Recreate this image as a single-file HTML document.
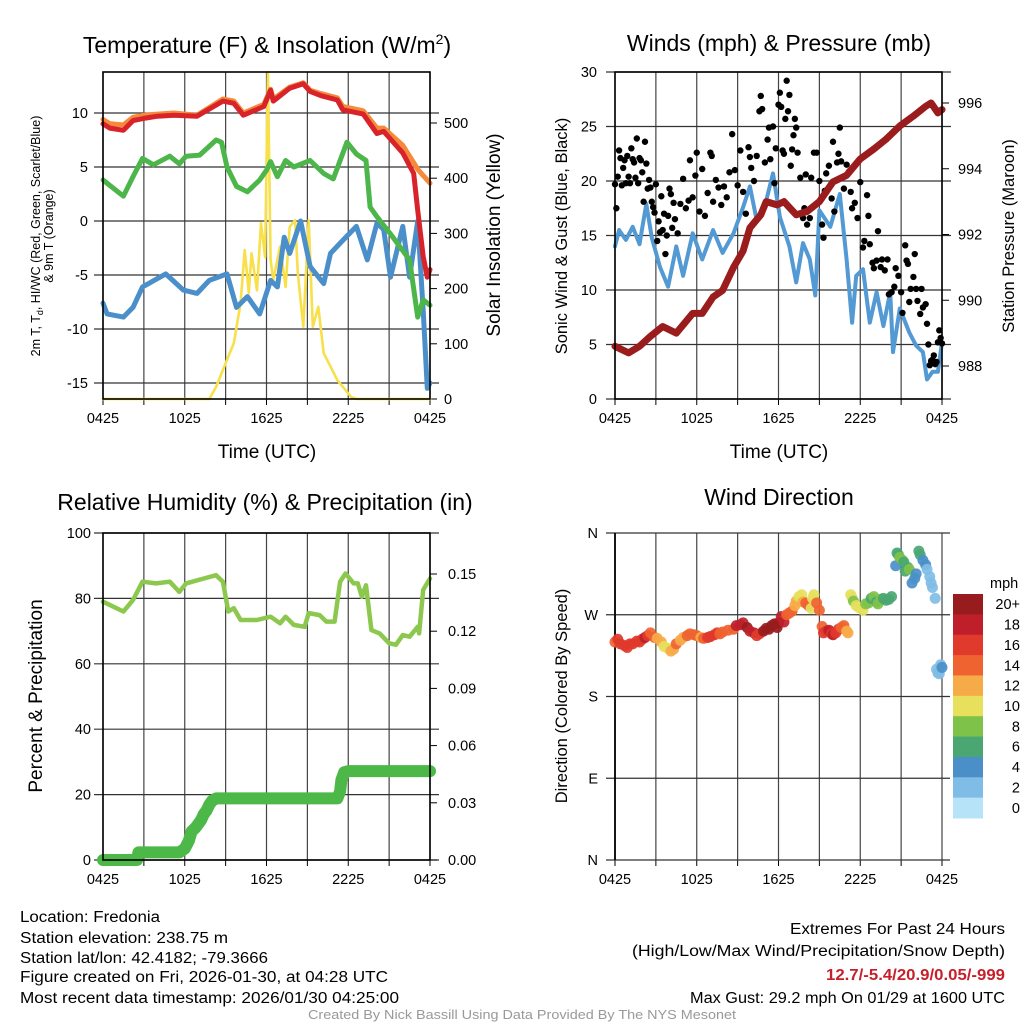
<!DOCTYPE html>
<html><head><meta charset="utf-8"><style>
body{margin:0;background:#fff;}
svg{display:block;font-family:"Liberation Sans",sans-serif;}
</style></head><body>
<svg id="c" width="1024" height="1024" viewBox="0 0 1024 1024" xmlns="http://www.w3.org/2000/svg">
<rect width="1024" height="1024" fill="#fff"/>
<g id="p1"></g>
<g id="p2"></g>
<g id="p3"></g>
<g id="p4"></g>
<g font-size="23" text-anchor="middle" fill="#000">
<text x="267" y="53">Temperature (F) &amp; Insolation (W/m<tspan font-size="14" dy="-9">2</tspan><tspan dy="9">)</tspan></text>
<text x="779" y="51">Winds (mph) &amp; Pressure (mb)</text>
<text x="265" y="510">Relative Humidity (%) &amp; Precipitation (in)</text>
<text x="779" y="505">Wind Direction</text>
</g>
<g font-size="19" text-anchor="middle">
<text x="267" y="458">Time (UTC)</text>
<text x="779" y="458">Time (UTC)</text>
<text transform="translate(500,235) rotate(-90)">Solar Insolation (Yellow)</text>
<text transform="translate(42,696) rotate(-90)">Percent &amp; Precipitation</text>
</g>
<g font-size="16.5" text-anchor="middle">
<text transform="translate(567,236) rotate(-90)">Sonic Wind &amp; Gust (Blue, Black)</text>
<text transform="translate(1014,236) rotate(-90)">Station Pressure (Maroon)</text>
<text transform="translate(567,696) rotate(-90)">Direction (Colored By Speed)</text>
</g>
<g font-size="12.5" text-anchor="middle">
<text transform="translate(40,236) rotate(-90)">2m T, T<tspan font-size="9" dy="3">d</tspan><tspan dy="-3">, HI/WC (Red, Green, Scarlet/Blue)</tspan></text>
<text transform="translate(53,236) rotate(-90)">&amp; 9m T (Orange)</text>
</g>
<g font-size="15.5" fill="#000">
<text x="20" y="922" textLength="140" lengthAdjust="spacingAndGlyphs">Location: Fredonia</text>
<text x="20" y="943" textLength="208" lengthAdjust="spacingAndGlyphs">Station elevation: 238.75 m</text>
<text x="20" y="963" textLength="248" lengthAdjust="spacingAndGlyphs">Station lat/lon: 42.4182; -79.3666</text>
<text x="20" y="982" textLength="368" lengthAdjust="spacingAndGlyphs">Figure created on Fri, 2026-01-30, at 04:28 UTC</text>
<text x="20" y="1003" textLength="379" lengthAdjust="spacingAndGlyphs">Most recent data timestamp: 2026/01/30 04:25:00</text>
<text x="790" y="934" textLength="215" lengthAdjust="spacingAndGlyphs">Extremes For Past 24 Hours</text>
<text x="632" y="956" textLength="373" lengthAdjust="spacingAndGlyphs">(High/Low/Max Wind/Precipitation/Snow Depth)</text>
<text x="826" y="980" textLength="179" lengthAdjust="spacingAndGlyphs" font-weight="bold" fill="#c8202a">12.7/-5.4/20.9/0.05/-999</text>
<text x="690" y="1003" textLength="315" lengthAdjust="spacingAndGlyphs">Max Gust: 29.2 mph On 01/29 at 1600 UTC</text>
<text x="308" y="1019" textLength="428" lengthAdjust="spacingAndGlyphs" font-size="13" fill="#999">Created By Nick Bassill Using Data Provided By The NYS Mesonet</text>
</g>
</svg>
<script>
// ---- data ----
const xTickLabels = ["0425","1025","1625","2225","0425"];
const tempT  = [0,0.5,1.5,2.2,3,4,5.2,6.9,8.8,9.6,10.3,11.8,12.3,12.5,13.7,14.7,15.2,16,17.2,17.6,19.1,20.1,20.6,22,22.8,23.1,23.5,23.8,24];
const tempV  = [9.0,8.6,8.4,9.3,9.5,9.7,9.8,9.7,11.1,10.9,9.8,10.6,12.1,11.1,12.3,12.7,12.0,11.6,11.2,10.3,9.9,8.1,8.3,6.3,4.4,1.0,-3.3,-5.2,-4.5];
const temp9V = [9.4,9.0,8.9,9.6,9.8,9.9,10.0,9.8,11.3,11.1,10.0,10.8,12.2,11.3,12.4,12.8,12.1,11.8,11.4,10.6,10.2,8.6,8.6,7.0,5.4,4.8,4.2,3.8,3.5];
const dewT   = [0,1.5,2.2,2.9,3.7,4.9,5.6,6.1,7.1,8.3,8.7,9.1,9.8,10.6,11.5,12.0,12.3,12.8,13.4,14.0,15.2,16.2,16.9,17.9,18.6,19.3,19.6,20.1,21.1,22.5,23.1,23.5,24];
const dewV   = [3.8,2.3,4.1,5.8,5.2,6.0,5.3,6.0,6.1,7.5,7.3,5.0,3.2,2.7,3.8,4.7,5.5,4.1,5.6,5.0,5.6,4.4,3.9,7.3,6.2,5.6,1.3,0.4,-1.2,-3.6,-8.9,-7.3,-7.8];
const wcT    = [0,0.3,1.5,2.2,2.9,4.6,5.9,6.9,7.8,9.1,9.8,10.6,11.5,12.3,12.8,13.3,13.7,14.5,15.2,16.2,16.7,17.6,18.6,19.4,20.1,20.6,21.1,22,22.5,23.1,23.5,23.8,24];
const wcV    = [-7.6,-8.6,-8.9,-8.0,-6.1,-4.9,-6.4,-6.7,-5.5,-4.9,-8.0,-7.0,-8.6,-5.5,-6.1,-1.5,-3.0,0.0,-4.2,-5.8,-3.0,-1.8,-0.5,-3.6,-0.2,-0.8,-5.2,-0.5,-5.2,0.0,-8.3,-15.5,-15.0];
const solT   = [0,7.8,8.3,9.1,9.6,10.1,10.4,10.7,10.9,11.3,11.6,11.9,12.1,12.3,12.5,13.0,13.4,13.7,14.1,14.3,14.7,15.1,15.4,15.8,16.2,17.2,18.2,18.6,24];
const solV   = [0,0,22,71,101,174,270,192,264,197,319,257,592,252,216,276,203,312,324,228,131,324,131,167,83,34,4,0,0];
const tempTicks = [10,5,0,-5,-10,-15];
const solTicks  = [0,100,200,300,400,500];

const windT = [0,0.3,0.8,1.3,1.8,2.3,2.7,3.3,3.9,4.5,5.0,5.7,6.4,7.2,7.9,8.7,9.4,9.9,10.4,11.1,11.6,12.1,12.8,13.3,13.8,14.3,14.7,15.0,15.8,16.5,17.0,17.4,17.7,18.2,18.7,19.2,19.7,20.2,20.4,20.9,21.6,22.1,22.6,22.9,23.3,23.7,24];
const windV = [14.0,15.5,14.6,15.8,14.2,17.9,14.8,12.1,10.3,14.0,11.3,15.2,12.8,15.5,13.4,15.2,17.6,19.5,16.4,18.2,20.7,16.7,14.0,10.7,14.3,12.8,9.5,17.3,15.8,18.8,12.8,7.0,11.3,11.9,7.0,9.8,6.7,9.8,4.3,8.3,6.1,4.9,4.3,1.8,2.5,2.5,5.2];
const gustT = [0,0.1,0.2,0.3,0.4,0.5,0.6,0.7,0.8,0.9,1.0,1.1,1.2,1.3,1.4,1.5,1.6,1.7,1.8,1.9,2.0,2.1,2.2,2.3,2.4,2.5,2.6,2.7,2.8,2.9,3.0,3.1,3.2,3.3,3.4,3.5,3.6,3.7,3.8,3.9,4.0,4.1,4.2,4.3,4.4,4.6,4.8,5.0,5.2,5.4,5.5,5.7,5.9,6.0,6.2,6.4,6.6,6.8,7.0,7.1,7.2,7.4,7.6,7.8,8.0,8.2,8.4,8.6,8.8,9.0,9.2,9.4,9.6,9.8,9.9,10.0,10.2,10.4,10.6,10.7,10.8,11.0,11.2,11.3,11.4,11.6,11.7,11.8,12.0,12.1,12.2,12.3,12.4,12.5,12.6,12.7,12.8,12.9,13.0,13.1,13.2,13.3,13.4,13.6,13.8,13.9,14.0,14.1,14.3,14.4,14.6,14.8,15.0,15.1,15.2,15.3,15.4,15.5,15.7,15.9,16.0,16.1,16.3,16.4,16.5,16.6,16.8,17.0,17.2,17.3,17.4,17.6,17.8,18.0,18.2,18.3,18.5,18.6,18.7,18.9,19.0,19.2,19.3,19.5,19.6,19.8,20.0,20.1,20.3,20.5,20.6,20.8,21.0,21.1,21.3,21.4,21.5,21.6,21.7,21.9,22.0,22.1,22.2,22.4,22.5,22.6,22.8,22.9,23.0,23.1,23.2,23.3,23.4,23.5,23.6,23.7,23.8,23.9,24.0];
const gustV = [19.7,17.5,20.4,22.8,22.1,19.6,21.2,21.9,19.8,22.3,20.4,19.8,23.0,22.0,21.7,20.3,23.9,19.8,22.1,21.9,20.8,18.1,23.6,21.6,19.3,20.1,19.4,18.1,17.6,17.1,19.7,14.5,16.3,15.3,18.6,15.5,17.0,13.3,15.0,16.8,19.3,18.8,15.7,18.0,16.5,15.2,17.9,20.2,17.5,18.2,21.9,18.5,20.5,22.6,17.2,21.1,16.8,18.9,22.6,22.3,18.1,20.1,19.4,17.8,19.5,18.5,20.8,24.3,21.0,19.6,22.8,19.0,17.0,23.1,22.2,21.2,20.0,22.3,26.4,27.8,26.6,21.7,23.8,24.9,22.0,25.0,19.8,23.0,27.0,28.1,26.8,22.8,22.5,25.7,29.2,26.4,27.9,21.4,22.9,24.2,25.7,24.9,22.6,20.3,16.6,17.5,20.6,16.0,16.6,20.3,22.6,22.6,20.0,18.3,16.0,14.8,19.1,20.7,21.4,18.4,23.6,17.2,21.7,22.5,24.9,21.8,19.3,21.5,20.9,19.0,17.5,18.0,16.6,19.9,13.9,14.5,18.7,16.8,14.2,12.5,12.0,12.7,15.4,12.1,12.8,11.8,12.8,9.6,9.8,10.3,12.0,11.3,9.8,7.9,14.1,12.7,12.4,8.9,10.1,11.2,13.3,10.1,9.0,7.8,10.1,8.4,8.7,6.9,5.0,3.1,3.5,3.6,4.0,3.2,3.4,5.2,6.3,5.6,5.1];
const presT = [0,1,1.8,2.6,3.5,4.5,5.7,6.4,7.2,7.9,8.7,9.4,9.9,10.7,11.1,11.9,12.4,13.3,14.1,15.0,16.0,17.0,18.0,19.0,19.9,20.9,21.9,22.8,23.2,23.7,24];
const presV = [988.6,988.4,988.6,988.9,989.2,989.0,989.6,989.6,990.1,990.3,991.0,991.5,992.2,992.6,993.0,992.9,993.0,992.6,992.7,993.0,993.6,993.8,994.3,994.6,994.9,995.3,995.6,995.9,996.0,995.7,995.8];
const windTicks = [0,5,10,15,20,25,30];
const presTicks = [988,990,992,994,996];

const rhT = [0,1.5,2.2,2.9,3.9,4.9,5.6,6.1,7.4,8.3,8.8,9.2,9.6,10.1,11.3,12.3,13.0,13.4,14.0,14.8,15.1,15.9,16.4,17.0,17.4,17.8,18.4,18.7,19.0,19.3,19.7,20.3,21.0,21.5,22.0,22.5,23.1,23.2,23.5,24];
const rhV = [79.0,76.0,79.5,85.1,84.6,85.1,82.0,84.6,86.1,87.1,85.1,76.0,77.0,73.4,73.4,74.4,72.4,74.4,71.9,71.3,75.5,74.9,72.9,72.9,85.1,87.6,84.6,84.6,80.5,84.0,70.3,69.3,66.3,65.8,68.8,68.3,71.3,69.3,82.6,86.1];
const pcpT = [0,0.5,1,1.5,2,2.5,2.6,3,3.5,4,4.5,5,5.5,5.6,6.0,6.3,6.5,6.8,7.0,7.2,7.4,7.6,7.8,8.0,8.3,9,10,11,12,13,14,15,16,17,17.2,17.4,17.5,17.7,18,19,20,21,22,23,24];
const pcpV = [0,0,0,0,0,0,0.004,0.004,0.004,0.004,0.004,0.004,0.004,0.004,0.006,0.010,0.015,0.017,0.019,0.021,0.024,0.026,0.029,0.031,0.0323,0.0323,0.0323,0.0323,0.0323,0.0323,0.0323,0.0323,0.0323,0.0323,0.0323,0.036,0.042,0.046,0.0466,0.0466,0.0466,0.0466,0.0466,0.0466,0.0466];
const rhTicks = [0,20,40,60,80,100];
const pcpTicks = [0,0.03,0.06,0.09,0.12,0.15];
const pcpTickLabels = ["0.00","0.03","0.06","0.09","0.12","0.15"];

const dirT = [0,0.2,0.4,0.7,0.9,1.1,1.3,1.6,1.8,2.0,2.2,2.4,2.6,2.9,3.1,3.4,3.6,3.9,4.1,4.3,4.5,4.8,5.0,5.3,5.5,5.8,6.0,6.3,6.5,6.8,7.0,7.3,7.5,7.7,7.9,8.3,8.7,8.9,9.2,9.4,9.7,9.9,10.2,10.4,10.6,10.9,11.1,11.3,11.5,11.7,11.9,12.0,12.2,12.4,12.6,12.8,13.0,13.2,13.3,13.5,13.7,13.8,14.0,14.2,14.4,14.5,14.6,14.8,15.0,15.2,15.3,15.5,15.7,15.9,16.0,16.2,16.4,16.6,16.8,17.0,17.1,17.3,17.4,17.5,17.7,17.9,18.2,18.4,18.6,18.8,19.0,19.2,19.3,19.5,19.7,19.9,20.1,20.3,20.6,20.7,20.8,20.9,21.1,21.2,21.3,21.5,21.6,21.8,22.0,22.1,22.3,22.4,22.6,22.8,22.9,23.1,23.2,23.3,23.5,23.6,23.7,23.8,23.9,24];
const dirV = [240,243,238,236,234,238,238,241,240,243,245,247,250,245,244,240,235,233,230,232,238,242,245,247,249,248,247,245,244,245,246,248,250,249,251,253,254,258,259,261,256,252,250,247,249,252,255,254,258,260,256,261,268,262,270,272,274,280,285,290,292,284,283,280,277,288,292,283,275,257,250,252,253,249,248,250,254,256,258,252,250,292,289,285,280,278,275,282,283,288,290,284,282,287,288,286,287,290,324,338,336,333,330,328,318,322,320,305,310,315,340,336,330,325,320,312,305,300,288,210,206,205,215,212,200,213];
const dirS = [15,16,16,17,17,16,17,17,16,17,18,16,15,14,13,12,11,11,12,13,14,13,13,14,14,15,15,13,14,16,16,17,17,15,15,14,14,18,18,19,20,19,19,16,17,20,20,21,21,20,21,21,19,18,15,15,14,13,12,11,11,12,14,15,10,11,11,14,15,15,17,16,18,17,18,17,16,15,15,12,13,10,10,8,10,10,10,9,8,7,8,7,8,8,6,7,7,6,4,7,7,8,8,6,6,7,8,4,4,4,6,6,5,4,3,3,2,2,2,2,3,2,2,4,4,4];
const dirTickLabels = ["N","E","S","W","N"];
const speedBins = ["0","2","4","6","8","10","12","14","16","18","20+"];
const speedColors = ["#b7e3f8","#80bde6","#4a8fc8","#4aa771","#7fc24a","#e6e05c","#f7aa48","#ef6330","#df3a2b","#be1f2a","#981c1e"];

// ---- helpers ----
const NS="http://www.w3.org/2000/svg";
function mk(parent, tag, attrs){const e=document.createElementNS(NS,tag);for(const k in attrs)e.setAttribute(k,attrs[k]);parent.appendChild(e);return e;}
function lin(d0,d1,r0,r1){return v=>r0+(v-d0)*(r1-r0)/(d1-d0);}
function pathD(ts,vs,sx,sy){return ts.map((t,i)=>(i?'L':'M')+sx(t).toFixed(1)+','+sy(vs[i]).toFixed(1)).join('');}

function frame(g, L, R, T, B, xs){
  for(let h=0;h<=24;h+=3){
    const x=xs(h);
    const gl=mk(g,'line',{x1:x,x2:x,y1:T,y2:B,stroke:'#444','stroke-width':1.2});
    
    
    const tk=mk(g,'line',{x1:x,x2:x,y1:B,y2:B+6,stroke:'#000','stroke-width':1});
    
    
  }
  xTickLabels.forEach((lb,i)=>{
    const t=mk(g,'text',{x:xs(i*6),y:B+24,'font-size':14.5,'text-anchor':'middle'});
    t.textContent=lb;
    
    
  });
}
function hgrid(g,L,R,y){
  const l=mk(g,'line',{x1:L-9,x2:R+9,y1:y,y2:y,stroke:'#333','stroke-width':1.2});
  
  
}
function label(g,x,y,txt,anchor,name){
  const t=mk(g,'text',{x:x,y:y+5,'font-size':14.5,'text-anchor':anchor});
  t.textContent=txt;
  
  
}
function line(g,d,color,w,name){
  const p=mk(g,'path',{d:d,fill:'none',stroke:color,'stroke-width':w,'stroke-linejoin':'round','stroke-linecap':'round'});
  
  
  return p;
}
function box(g,L,R,T,B){
  const r=mk(g,'rect',{x:L,y:T,width:R-L,height:B-T,fill:'none',stroke:'#000','stroke-width':1.6});
  
  
}

// ---- panel 1 ----
(function(){
  const g=document.getElementById('p1');
  const L=103,R=430,T=72,B=399;
  const xs=lin(0,24,L,R), ys=lin(0,10,221,113), ysR=lin(0,500,399,123);
  frame(g,L,R,T,B,xs);
  tempTicks.forEach(v=>{hgrid(g,L,R,ys(v));label(g,L-15,ys(v),String(v),'end','y-tick-label');});
  solTicks.forEach(v=>{
    const tk=mk(g,'line',{x1:R,x2:R+7,y1:ysR(v),y2:ysR(v),stroke:'#000'});
    
    
    label(g,R+14,ysR(v),String(v),'start','right-tick-label');
  });
  line(g,pathD(solT,solV,xs,ysR),'#f7e04a',2.6,'insolation-line');
  line(g,pathD(wcT,wcV,xs,ys),'#4b8fca',5,'wind-chill-line');
  line(g,pathD(dewT,dewV,xs,ys),'#4db64a',5,'dewpoint-line');
  line(g,pathD(tempT,temp9V,xs,ys),'#f58a3a',5,'temp-9m-line');
  line(g,pathD(tempT,tempV,xs,ys),'#d9232a',5,'temp-2m-line');
  box(g,L,R,T,B);
})();

// ---- panel 2 ----
(function(){
  const g=document.getElementById('p2');
  const L=615,R=942,T=72,B=399;
  const xs=lin(0,24,L,R), ys=lin(0,30,399,72), ysR=lin(988,996,366,103);
  frame(g,L,R,T,B,xs);
  windTicks.forEach(v=>{hgrid(g,L,R,ys(v));label(g,L-18,ys(v),String(v),'end','y-tick-label');});
  presTicks.forEach(v=>{
    const tk=mk(g,'line',{x1:R,x2:R+7,y1:ysR(v),y2:ysR(v),stroke:'#000'});
    
    
    label(g,R+16,ysR(v),String(v),'start','right-tick-label');
  });
  line(g,pathD(windT,windV,xs,ys),'#5399d3',4,'sustained-wind-line');
  gustT.forEach((t,i)=>{
    const c=mk(g,'circle',{cx:xs(t),cy:ys(gustV[i]),r:3.2,fill:'#000'});
    
    
  });
  line(g,pathD(presT,presV,xs,ysR),'#9b1c1c',7,'pressure-line');
  box(g,L,R,T,B);
})();

// ---- panel 3 ----
(function(){
  const g=document.getElementById('p3');
  const L=103,R=430,T=533,B=860;
  const xs=lin(0,24,L,R), ys=lin(0,100,860,533), ysR=lin(0,0.15,860,574);
  frame(g,L,R,T,B,xs);
  rhTicks.forEach(v=>{hgrid(g,L,R,ys(v));label(g,L-12,ys(v),String(v),'end','y-tick-label');});
  pcpTicks.forEach((v,i)=>{
    const tk=mk(g,'line',{x1:R,x2:R+7,y1:ysR(v),y2:ysR(v),stroke:'#000'});
    
    
    label(g,R+18,ysR(v),pcpTickLabels[i],'start','right-tick-label');
  });
  line(g,pathD(rhT,rhV,xs,ys),'#8dc84e',4.5,'humidity-line');
  line(g,pathD(pcpT,pcpV,xs,ysR),'#4cb848',12,'precip-line');
  box(g,L,R,T,B);
})();

// ---- panel 4 ----
(function(){
  const g=document.getElementById('p4');
  const L=615,R=942,T=533,B=860;
  const xs=lin(0,24,L,R), ys=lin(0,360,860,533);
  frame(g,L,R,T,B,xs);
  dirTickLabels.forEach((lb,i)=>{
    const y=ys(i*90);
    const l=mk(g,'line',{x1:L-9,x2:950,y1:y,y2:y,stroke:'#333','stroke-width':1.2});
    
    
    label(g,L-17,y,lb,'end','direction-tick-label');
  });
  const ax=mk(g,'line',{x1:L,x2:L,y1:T,y2:B,stroke:'#000','stroke-width':1.8});
  
  
  dirT.forEach((t,i)=>{
    const bin=Math.max(0,Math.min(10,Math.floor(dirS[i]/2)));
    const c=mk(g,'circle',{cx:xs(t),cy:ys(dirV[i]),r:5.5,fill:speedColors[bin],opacity:0.92});
    
    
  });
  const cbT=594, cbH=224/11;
  const mph=mk(g,'text',{x:990,y:588,'font-size':14.5});
  mph.textContent='mph';
  
  
  for(let k=0;k<11;k++){
    const idx=10-k;
    const r=mk(g,'rect',{x:953,y:cbT+k*cbH,width:30,height:cbH+0.5,fill:speedColors[idx]});
    
    
    const t=mk(g,'text',{x:1020,y:cbT+k*cbH+cbH/2+5,'font-size':14.5,'text-anchor':'end'});
    t.textContent=speedBins[idx];
    
    
  }
})();
</script>
</body></html>
